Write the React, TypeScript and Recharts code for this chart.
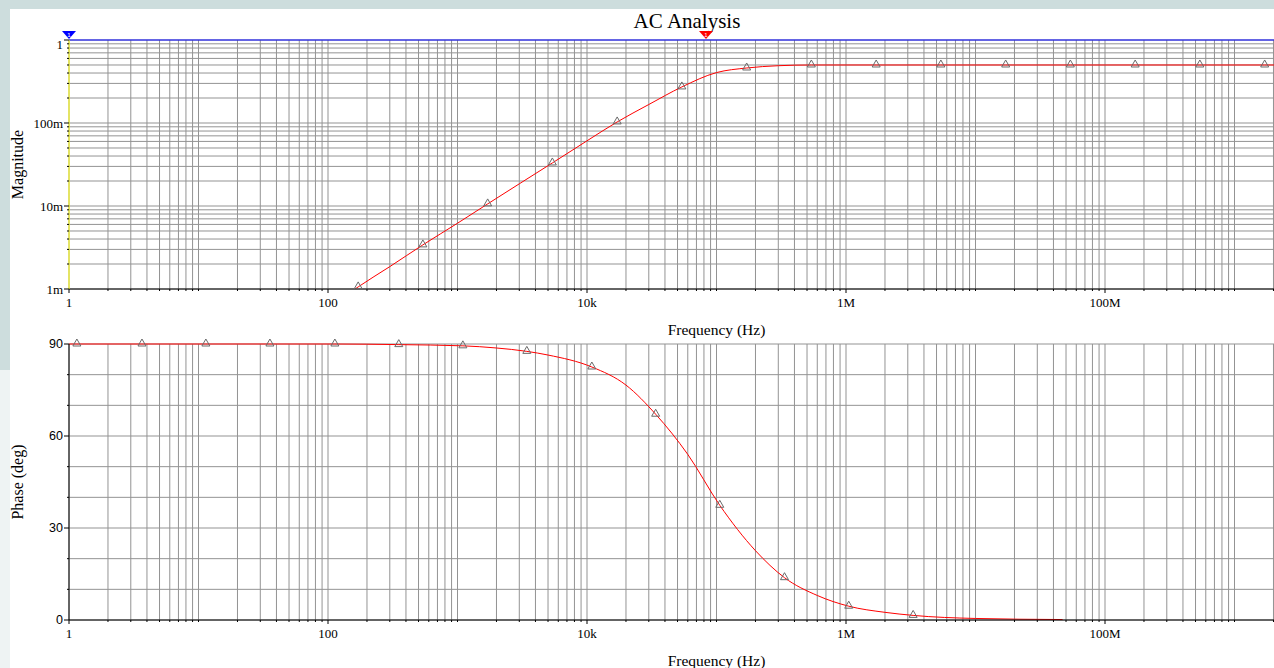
import { LineChart, Line, XAxis, YAxis, CartesianGrid, ReferenceLine, ReferenceDot } from 'recharts'

// magnitude trace (V/V), frequency in Hz
const magFreq = [150, 171, 300, 540, 1000, 1710, 3000, 5400, 10000, 17100, 30000, 54000, 100000, 171000, 300000, 540000, 1.71e6, 5.4e6, 1.71e7, 5.4e7, 1.71e8, 5.4e8, 1.71e9, 5.4e9, 1e10]
const magValue = [0.00092, 0.00106, 0.00186, 0.0034, 0.0062, 0.0106, 0.0185, 0.033, 0.061, 0.103, 0.167, 0.272, 0.405, 0.46, 0.49, 0.5, 0.5, 0.5, 0.5, 0.5, 0.5, 0.5, 0.5, 0.5, 0.5]
const magMarkers = [171, 540, 1710, 5400, 17100, 54000, 171000, 540000, 1.71e6, 5.4e6, 1.71e7, 5.4e7, 1.71e8, 5.4e8, 1.71e9, 5.4e9]

// phase trace (deg)
const phaseFreq = [1, 1.15, 3.66, 11.4, 35.6, 113, 352, 1100, 2000, 3430, 5000, 10900, 20000, 33900, 60000, 106000, 200000, 335000, 600000, 1.05e6, 2e6, 3.3e6, 1e7, 4.7e7]
const phaseValue = [90, 90, 90, 90, 90, 90, 89.8, 89.4, 88.7, 87.6, 86.4, 82.5, 76.6, 67.1, 54, 37.4, 22.6, 13.8, 8.0, 4.5, 2.5, 1.5, 0.5, 0.15]
const phaseMarkers = [1.15, 3.66, 11.4, 35.6, 113, 352, 1100, 3430, 10900, 33900, 106000, 335000, 1.05e6, 3.3e6]

// cursors sitting on top of the magnitude plot
const cursorFreq = [1, 83000]
const cursorColor = ['#0000ff', '#ff0000']

// axis labels
const xMajor = [1, 100, 1e4, 1e6, 1e8]
const xMajorText = ['1', '100', '10k', '1M', '100M']
const magMajor = [0.001, 0.01, 0.1, 1]
const magMajorText = ['1m', '10m', '100m', '1']
const phaseTicks = [0, 10, 20, 30, 40, 50, 60, 70, 80, 90]
const phaseMajor = [0, 30, 60, 90]

const decadeGrid = (from: number, to: number) => {
  const out: number[] = []
  for (let k = from; k < to; k++) for (let m = 1; m <= 9; m++) out.push(m * Math.pow(10, k))
  out.push(Math.pow(10, to))
  return out
}
const xTicks = decadeGrid(0, 10)
const magTicks = decadeGrid(-3, 0)

const near = (a: number, b: number) => Math.abs(Math.log10(a) - Math.log10(b)) < 1e-6
const labelOf = (v: number, list: number[], text: string[]) => {
  const i = list.findIndex((m) => near(m, v))
  return i < 0 ? null : text[i]
}

const magData = magFreq.map((f, i) => ({ f, v: magValue[i], mk: magMarkers.some((m) => near(m, f)) }))
const phaseData = phaseFreq.map((f, i) => ({ f, v: phaseValue[i], mk: phaseMarkers.some((m) => near(m, f)) }))

const SERIF = '"Liberation Serif", "Times New Roman", serif'
const SANS = '"Liberation Sans", Arial, sans-serif'
const GRID = '#939393'

const XTick = (p: any) => {
  const lab = labelOf(p.payload.value, xMajor, xMajorText)
  return (
    <g>
      <line x1={p.x} x2={p.x} y1={p.y} y2={p.y + (lab ? 4 : 2)} stroke="#000" />
      {lab && (
        <text x={p.x} y={p.y + 18} textAnchor="middle" fontFamily={SERIF} fontSize={13} fill="#000">
          {lab}
        </text>
      )}
    </g>
  )
}

const MagTick = (p: any) => {
  const lab = labelOf(p.payload.value, magMajor, magMajorText)
  return (
    <g>
      <line x1={p.x - (lab ? 5 : 2)} x2={p.x} y1={p.y} y2={p.y} stroke="#000" />
      {lab && (
        <text x={p.x - 6} y={lab === '1' ? p.y + 4 : p.y} dy="0.35em" textAnchor="end" fontFamily={SERIF} fontSize={13} fill="#000">
          {lab}
        </text>
      )}
    </g>
  )
}

const PhaseTick = (p: any) => {
  const major = phaseMajor.includes(p.payload.value)
  return (
    <g>
      <line x1={p.x - (major ? 5 : 2)} x2={p.x} y1={p.y} y2={p.y} stroke="#000" />
      {major && (
        <text x={p.x - 6} y={p.y} dy="0.35em" textAnchor="end" fontFamily={SANS} fontSize={12.5} fill="#000">
          {p.payload.value}
        </text>
      )}
    </g>
  )
}

const XTitle = (p: any) => {
  const vb = p.viewBox
  return (
    <text x={vb.x + vb.width / 2} y={vb.y + 46} textAnchor="middle" fontFamily={SERIF} fontSize={15.5} fill="#000">
      Frequency (Hz)
    </text>
  )
}

const YTitle = (text: string) => (p: any) => {
  const vb = p.viewBox
  const cx = vb.x + 17
  const cy = vb.y + vb.height / 2
  return (
    <text x={cx} y={cy} transform={`rotate(-90, ${cx}, ${cy})`} textAnchor="middle" dominantBaseline="central" fontFamily={SERIF} fontSize={16} fill="#000">
      {text}
    </text>
  )
}

const Marker = (p: any) => {
  if (!p.payload || !p.payload.mk) return <g key={p.index} />
  const y = p.cy - 1
  return (
    <polygon
      key={p.index}
      points={`${p.cx - 4},${y + 3} ${p.cx + 4},${y + 3} ${p.cx},${y - 4}`}
      fill="none"
      stroke="#6a6a6a"
    />
  )
}

const Cursor = (p: any) => (
  <g>
    <polygon points={`${p.cx - 7},${p.cy - 9} ${p.cx + 7},${p.cy - 9} ${p.cx},${p.cy - 1}`} fill={p.fill} />
    <text x={p.cx} y={p.cy - 3.5} textAnchor="middle" fontSize={6} fontFamily={SANS} fill="#fff">
      1
    </text>
  </g>
)

export default function App() {
  return (
    <div style={{ position: 'absolute', left: 0, top: 0, width: 1274, height: 668, overflow: 'hidden', background: '#cddddd' }}>
      <div style={{ position: 'absolute', left: 10, top: 9, width: 1264, height: 659, background: '#fff' }} />
      <div style={{ position: 'absolute', left: 0, top: 370, width: 10, height: 298, background: '#eef3f3' }} />
      <div
        style={{
          position: 'absolute',
          left: 687,
          top: 9,
          transform: 'translateX(-50%)',
          fontFamily: SERIF,
          fontSize: 21,
          lineHeight: '24px',
          whiteSpace: 'nowrap',
          color: '#000',
        }}
      >
        AC Analysis
      </div>

      <div style={{ position: 'absolute', left: 0, top: 0 }}>
        <LineChart width={1364} height={340} data={magData} margin={{ top: 40, right: 0, bottom: 0, left: 0 }}>
          <CartesianGrid stroke={GRID} />
          <XAxis
            dataKey="f"
            type="number"
            scale="log"
            domain={[1, 1e10]}
            allowDataOverflow
            ticks={xTicks}
            interval={0}
            tickSize={0}
            tickMargin={0}
            tickLine={false}
            tick={<XTick />}
            height={51}
            axisLine={{ stroke: '#000' }}
            label={<XTitle />}
          />
          <YAxis
            type="number"
            scale="log"
            domain={[0.001, 1]}
            allowDataOverflow
            ticks={magTicks}
            interval={0}
            tickSize={0}
            tickMargin={0}
            tickLine={false}
            tick={<MagTick />}
            width={69}
            axisLine={{ stroke: '#ffff00' }}
            label={YTitle('Magnitude')}
          />
          <ReferenceLine y={1} stroke="#0000ff" />
          <Line dataKey="v" type="monotone" stroke="#ff0000" strokeWidth={1} dot={Marker} activeDot={false} isAnimationActive={false} />
          {cursorFreq.map((f, i) => (
            <ReferenceDot key={f} x={f} y={1} r={7} fill={cursorColor[i]} stroke="none" shape={Cursor} ifOverflow="visible" />
          ))}
        </LineChart>
      </div>

      <div style={{ position: 'absolute', left: 0, top: 320 }}>
        <LineChart width={1364} height={348} data={phaseData} margin={{ top: 24, right: 0, bottom: 0, left: 0 }}>
          <CartesianGrid stroke={GRID} />
          <XAxis
            dataKey="f"
            type="number"
            scale="log"
            domain={[1, 1e10]}
            allowDataOverflow
            ticks={xTicks}
            interval={0}
            tickSize={0}
            tickMargin={0}
            tickLine={false}
            tick={<XTick />}
            height={48}
            axisLine={{ stroke: '#000' }}
            label={<XTitle />}
          />
          <YAxis
            type="number"
            domain={[0, 90]}
            ticks={phaseTicks}
            interval={0}
            tickSize={0}
            tickMargin={0}
            tickLine={false}
            tick={<PhaseTick />}
            width={69}
            axisLine={{ stroke: '#000' }}
            label={YTitle('Phase (deg)')}
          />
          <Line dataKey="v" type="monotone" stroke="#ff0000" strokeWidth={1} dot={Marker} activeDot={false} isAnimationActive={false} />
        </LineChart>
      </div>
    </div>
  )
}
